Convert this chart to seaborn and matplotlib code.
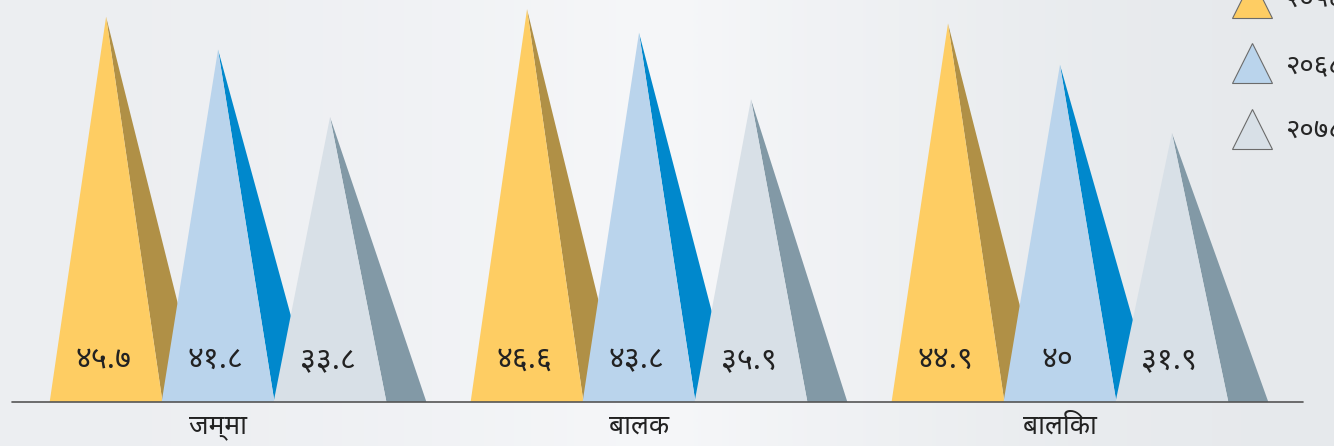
import numpy as np
import matplotlib
matplotlib.use("Agg")
import matplotlib.pyplot as plt
import seaborn as sns
from matplotlib.lines import Line2D

# data
groups = ["जम्मा", "बालक", "बालिका"]
years = ["२०५८", "२०६८", "२०७८"]
values_2058 = [45.7, 46.6, 44.9]
values_2068 = [41.8, 43.8, 40.0]
values_2078 = [33.8, 35.9, 31.9]
labels_2058 = ["४५.७", "४६.६", "४४.९"]
labels_2068 = ["४१.८", "४३.८", "४०"]
labels_2078 = ["३३.८", "३५.९", "३१.९"]

front_colors = ["#FECD63", "#BAD4EC", "#D8E0E7"]
shade_colors = ["#B09046", "#0088CC", "#8299A6"]

sns.set_theme(style="white")
plt.rcParams["font.family"] = ["Noto Sans Devanagari", "DejaVu Sans"]

fig = plt.figure(figsize=(13.34, 4.46), dpi=100)
ax = fig.add_axes([0, 0, 1, 1])
xmin, xmax = -0.518, 2.651
ymin, ymax = -5.22, 47.69
ax.set_xlim(xmin, xmax)
ax.set_ylim(ymin, ymax)
ax.axis("off")

# soft background gradient
grad = np.array([[0.0, 0.5, 1.0]])
bg = matplotlib.colors.LinearSegmentedColormap.from_list(
    "bg", ["#eceef1", "#f6f7f9", "#e6e9ec"])
ax.imshow(grad, extent=[xmin, xmax, ymin, ymax], aspect="auto", cmap=bg,
          interpolation="bicubic", zorder=0)

step = 0.266
half = 0.134
shadow = 0.095
series = [values_2058, values_2068, values_2078]
texts = [labels_2058, labels_2068, labels_2078]

for g in range(len(groups)):
    for k, vals in enumerate(series):
        c = g + (k - 1) * step
        v = vals[g]
        ax.fill([c, c + half, c + half + shadow], [v, 0, 0],
                color=shade_colors[k], lw=0, zorder=2 + 2 * k)
        ax.fill([c - half, c, c + half], [0, v, 0],
                color=front_colors[k], lw=0, zorder=3 + 2 * k)
        ax.text(c - 0.006, 5.0, texts[k][g], ha="center", va="center",
                fontsize=22, color="#222222", zorder=10)
    ax.text(g, -2.9, groups[g], ha="center", va="center", fontsize=19,
            color="#222222", zorder=10)

ax.plot([-0.489, 2.577], [0, 0], color="#555555", lw=1.2, zorder=9)

handles = [Line2D([], [], marker="^", linestyle="none", markersize=29,
                  markerfacecolor=fc, markeredgecolor="#6b6b6b",
                  markeredgewidth=0.8) for fc in front_colors]
ax.legend(handles, years, loc="center left",
          bbox_to_anchor=(1231 / 1334, 1 - 66 / 446),
          bbox_transform=fig.transFigure, frameon=False, fontsize=20,
          handlelength=1.5, handletextpad=0.44, borderpad=0, borderaxespad=0,
          labelspacing=1.34)

fig.savefig("out.png", dpi=100)
